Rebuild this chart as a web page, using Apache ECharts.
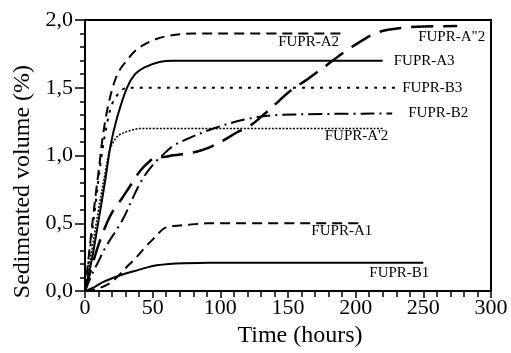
<!DOCTYPE html>
<html style="height: 100%">
<head>
    <meta charset="utf-8">
    <title>Sedimented volume</title>
</head>
<body style="height: 100%; margin: 0; background: #fff">
    <div id="container" style="width: 511px; height: 353px"></div>
    <script type="text/javascript" src="https://cdn.jsdelivr.net/npm/echarts@6/dist/echarts.min.js"></script>
    <script type="text/javascript">
        // [hours, sedimented volume %]
        var fuprA2 = [[0,0],[4,0.37],[8,0.72],[10.5,0.92],[13,1.13],[16.5,1.34],[21,1.52],[25,1.62],[30,1.69],[38,1.78],[48,1.84],[60,1.88],[80,1.9],[190,1.9]];
        var fuprA3 = [[0,0],[5,0.23],[10,0.52],[15,0.82],[19,1.08],[24,1.29],[31,1.5],[37,1.6],[44,1.65],[55,1.69],[65,1.7],[220,1.7]];
        var fuprB3 = [[0,0],[4,0.33],[8,0.66],[12,0.98],[16,1.22],[20,1.38],[25,1.46],[31,1.5],[230,1.5]];
        var fuprB2 = [[0,0],[5,0.12],[10,0.22],[15,0.32],[28,0.53],[35,0.68],[42,0.82],[50,0.93],[57,1.0],[65,1.07],[75,1.12],[95,1.2],[120,1.27],[145,1.3],[227,1.31]];
        var fuprA12 = [[0,0],[5,0.3],[10,0.6],[15,0.88],[18,1.03],[21,1.1],[25,1.15],[32,1.18],[42,1.2],[220,1.2]];
        var fuprA22 = [[0,0],[8,0.28],[14,0.45],[20,0.58],[27,0.68],[33,0.77],[41,0.89],[48,0.96],[53,0.99],[58,0.99],[64,1.0],[72,1.01],[83,1.03],[92,1.06],[102,1.11],[112,1.17],[122,1.22],[133,1.31],[143,1.4],[152,1.48],[164,1.56],[179,1.67],[194,1.78],[205,1.85],[214,1.9],[225,1.93],[245,1.95],[275,1.955]];
        var fuprA1 = [[0,0],[10,0.02],[20,0.07],[31,0.18],[38,0.25],[45,0.33],[52,0.4],[58,0.46],[65,0.48],[77,0.49],[90,0.5],[202,0.5]];
        var fuprB1 = [[0,0],[7,0.03],[14,0.07],[24,0.11],[32,0.135],[39,0.155],[46,0.175],[53,0.19],[62,0.2],[73,0.206],[92,0.21],[250,0.21]];

        var seriesNames = ['FUPR-A2', 'FUPR-A3', 'FUPR-B3', 'FUPR-B2', "FUPR-A'2", 'FUPR-A"2', 'FUPR-A1', 'FUPR-B1'];
        var seriesData = [fuprA2, fuprA3, fuprB3, fuprB2, fuprA12, fuprA22, fuprA1, fuprB1];

        var xTicks = [0, 50, 100, 150, 200, 250, 300];
        var yTicks = [0, 0.5, 1.0, 1.5, 2.0];

        // line look + where each end label sits
        var looks = [
            { type: [10, 6], width: 2, offset: [-72, 9] },
            { type: 'solid', width: 2, offset: [3, 0] },
            { type: [3, 6], width: 2, offset: [-2, 0] },
            { type: [14, 5, 2, 5], width: 2, offset: [8, 0] },
            { type: [2, 1.5], width: 1.5, offset: [-66, 8] },
            { type: [22, 10], width: 2.5, offset: [-47, 11] },
            { type: [10, 6], width: 2, offset: [-55, 8] },
            { type: 'solid', width: 2, offset: [-62, 10] }
        ];

        var serif = '"Liberation Serif", "Times New Roman", serif';
        var myChart = echarts.init(document.getElementById('container'));

        var series = seriesNames.map(function (name, i) {
            return {
                name: name,
                type: 'line',
                data: seriesData[i],
                showSymbol: false,
                smooth: 0.35,
                lineStyle: { color: '#000', width: looks[i].width, type: looks[i].type },
                endLabel: {
                    show: true,
                    formatter: name,
                    offset: looks[i].offset,
                    color: '#000',
                    fontFamily: serif,
                    fontSize: 15
                }
            };
        });

        var option = {
            animation: false,
            backgroundColor: '#fff',
            grid: { left: 85, right: 20, top: 20, bottom: 51, show: true, borderColor: '#000', borderWidth: 2 },
            xAxis: {
                type: 'value', min: xTicks[0], max: xTicks[xTicks.length - 1], interval: 50,
                name: 'Time (hours)', nameLocation: 'middle', nameGap: 29,
                nameTextStyle: { fontFamily: serif, fontSize: 24, color: '#000', padding: [0, 0, 0, 24] },
                axisLine: { lineStyle: { color: '#000', width: 2 } },
                axisTick: { length: 7, lineStyle: { color: '#000', width: 1.5 } },
                minorTick: { show: true, splitNumber: 5, length: 6, lineStyle: { color: '#000', width: 1.5 } },
                splitLine: { show: false },
                axisLabel: { margin: 6, fontFamily: serif, fontSize: 22, color: '#000' }
            },
            yAxis: {
                type: 'value', min: yTicks[0], max: yTicks[yTicks.length - 1], interval: 0.5,
                name: 'Sedimented volume (%)', nameLocation: 'middle', nameGap: 50,
                nameTextStyle: { fontFamily: serif, fontSize: 24, color: '#000', padding: [0, 52, 0, 0] },
                axisLine: { lineStyle: { color: '#000', width: 2 } },
                axisTick: { length: 10, lineStyle: { color: '#000', width: 1.5 } },
                minorTick: { show: true, splitNumber: 5, length: 5, lineStyle: { color: '#000', width: 1.5 } },
                splitLine: { show: false },
                axisLabel: {
                    margin: 12, fontFamily: serif, fontSize: 22, color: '#000',
                    formatter: function (v) { return v.toFixed(1).replace('.', ','); }
                }
            },
            series: series
        };
        myChart.setOption(option);
    </script>
</body>
</html>
